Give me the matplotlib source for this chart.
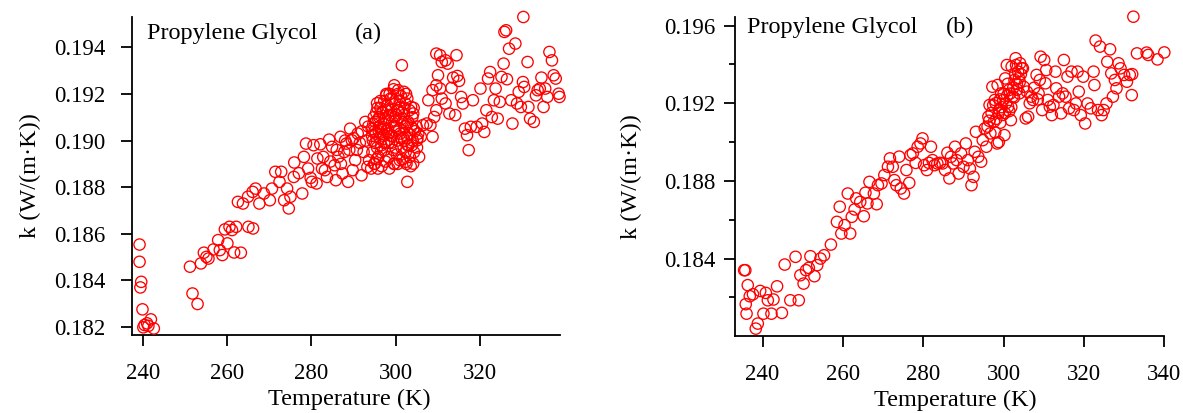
import matplotlib
matplotlib.use("Agg")
import matplotlib.pyplot as plt

plt.rcParams['font.family'] = ['Liberation Serif', 'DejaVu Serif']

# ---------------- data: panel (a) ----------------
temp_a = [
    239.1, 239.1, 239.5, 239.3, 239.8, 240.3, 240.9, 241.8, 241.2, 242.5, 240.0,
    251.1, 251.7, 252.9, 253.7, 254.4, 255.0, 255.5, 256.7, 257.8, 258.2, 258.8,
    259.4, 260.0, 260.5, 261.1, 262.1, 261.6, 263.2, 265.0, 266.1, 262.5, 263.7,
    264.9, 266.0, 266.7, 267.6, 268.7, 270.1, 270.6, 271.4, 272.8, 272.4, 273.5,
    274.6, 275.0, 274.2, 275.8, 275.9, 277.8, 278.2, 278.7, 279.2, 280.1, 280.5,
    281.4, 281.2, 282.1, 282.8, 283.2, 283.7, 284.2, 284.9, 285.5, 285.8, 286.4,
    286.9, 287.4, 287.8, 288.3, 288.7, 289.2, 289.6, 289.8, 290.4, 291.0, 291.9,
    292.4, 292.8, 293.3, 293.7, 294.2, 295.1,
    286.0, 287.0, 288.0, 289.0, 290.0, 290.8, 291.5, 292.0, 293.0, 293.5, 282.5,
    284.5, 279.8, 277.0,
    294.3, 294.6, 294.5, 294.8, 294.9,
    295.2, 295.4, 295.3, 295.6, 295.5, 295.8, 295.7,
    296.1, 296.3, 296.2, 296.5, 296.4, 296.7, 296.6,
    297.0, 297.2, 297.1, 297.4, 297.3, 297.6, 297.5,
    298.0, 298.2, 298.1, 298.4, 298.3, 298.6, 298.5,
    299.0, 299.2, 299.1, 299.4, 299.3, 299.6, 299.5,
    300.0, 300.2, 300.1, 300.4, 300.3, 300.6, 300.5,
    301.0, 301.2, 301.1, 301.4, 301.3, 301.6, 301.5,
    302.0, 302.2, 302.1, 302.4, 302.3, 302.6, 302.5,
    303.0, 303.2, 303.1, 303.4, 303.3, 303.6,
    304.0, 304.2, 304.1, 304.4, 304.3,
    305.0, 305.2, 305.1,
    294.7, 295.0, 295.9, 296.0, 296.8, 296.9, 297.7, 297.9, 298.7, 298.9,
    299.8, 299.9, 300.7, 300.9, 301.7, 301.9, 302.7, 302.9, 303.7, 303.9,
    295.1, 295.9, 296.6, 297.3, 298.2, 299.0, 299.7, 300.5, 301.3, 302.1,
    294.4, 295.6, 296.4, 297.8, 298.8, 300.0, 301.0, 302.8, 304.6, 305.4,
    301.5, 299.7, 297.8, 300.6, 302.0, 302.8, 303.7, 304.2, 302.8, 299.7, 301.0,
    302.4, 304.2, 305.6, 305.1, 306.0, 306.5, 307.4, 308.3, 308.8, 309.2, 309.7,
    307.8, 308.8, 309.7, 310.1, 310.6, 309.7, 310.6, 311.0, 311.9, 312.4, 311.0,
    311.9, 312.8, 313.3, 313.7, 314.2, 314.7, 314.5, 315.1, 315.6, 316.0, 316.5,
    317.0, 317.4, 317.9, 318.4, 319.3, 320.2, 320.6, 321.1, 321.6, 322.0, 322.5,
    322.9, 323.4, 323.8, 324.3, 324.8, 325.2, 325.7, 325.9, 326.3, 326.5, 327.0,
    327.5, 327.8, 328.5, 328.9, 329.3, 329.8, 330.3, 330.4, 330.6, 331.4, 331.6,
    332.0, 332.9, 333.4, 333.8, 334.3, 334.7, 335.2, 335.6, 336.1, 336.6, 337.2,
    337.6, 338.1, 338.8, 339.0,
]
k_a = [
    0.18554, 0.18480, 0.18394, 0.18370, 0.18276, 0.18209, 0.18216, 0.18233, 0.18205, 0.18194, 0.18199,
    0.18459, 0.18344, 0.18299, 0.18473, 0.18519, 0.18501, 0.18494, 0.18533, 0.18573, 0.18530, 0.18509,
    0.18619, 0.18559, 0.18630, 0.18616, 0.18630, 0.18520, 0.18519, 0.18630, 0.18623, 0.18737, 0.18730,
    0.18759, 0.18780, 0.18794, 0.18730, 0.18773, 0.18744, 0.18794, 0.18866, 0.18866, 0.18823, 0.18744,
    0.18709, 0.18759, 0.18794, 0.18844, 0.18906, 0.18773, 0.18930, 0.18987, 0.18880, 0.18823, 0.18980,
    0.18923, 0.18816, 0.18984, 0.18930, 0.18873, 0.18844, 0.19004, 0.18973, 0.18894, 0.18830, 0.18930,
    0.19016, 0.18859, 0.18951, 0.18987, 0.18823, 0.19051, 0.19001, 0.18873, 0.18916, 0.19030, 0.18851,
    0.18951, 0.19080, 0.18887, 0.18916, 0.18880, 0.18901,
    0.18960, 0.18900, 0.19000, 0.18960, 0.19010, 0.18960, 0.18990, 0.19040, 0.19000, 0.19060, 0.18880,
    0.18910, 0.18840, 0.18860,
    0.19050, 0.19000, 0.18950, 0.19100, 0.18900,
    0.19080, 0.19120, 0.19030, 0.18970, 0.18920, 0.18880, 0.19140,
    0.19100, 0.19060, 0.19010, 0.18950, 0.19140, 0.18890, 0.18980,
    0.19120, 0.19070, 0.19020, 0.18960, 0.19170, 0.18910, 0.19090,
    0.19150, 0.19100, 0.19050, 0.18990, 0.18930, 0.19200, 0.18880,
    0.19130, 0.19080, 0.19020, 0.18960, 0.19180, 0.18900, 0.19220,
    0.19160, 0.19110, 0.19060, 0.19000, 0.18940, 0.19200, 0.18900,
    0.19140, 0.19090, 0.19030, 0.18970, 0.19190, 0.18920, 0.19120,
    0.19110, 0.19060, 0.19000, 0.18950, 0.19160, 0.18900, 0.19200,
    0.19080, 0.19030, 0.18980, 0.18930, 0.19130, 0.18890,
    0.19100, 0.19050, 0.19000, 0.18950, 0.19140,
    0.19060, 0.19010, 0.18970,
    0.19070, 0.19040, 0.19090, 0.19040, 0.19120, 0.19030, 0.19130, 0.19040, 0.19110, 0.19020,
    0.19100, 0.19040, 0.19130, 0.19050, 0.19080, 0.19010, 0.19070, 0.18980, 0.19060, 0.18980,
    0.18990, 0.18930, 0.19050, 0.18990, 0.19030, 0.18990, 0.19060, 0.19130, 0.19010, 0.19140,
    0.19020, 0.19160, 0.19170, 0.19200, 0.19180, 0.18970, 0.19170, 0.19010, 0.19040, 0.19030,
    0.19323, 0.19237, 0.19194, 0.19216, 0.19209, 0.19180, 0.19144, 0.19116, 0.18823, 0.18901, 0.18916,
    0.18909, 0.18901, 0.18930, 0.19001, 0.19016, 0.19066, 0.19073, 0.19066, 0.19016, 0.19101, 0.19130,
    0.19173, 0.19216, 0.19237, 0.19280, 0.19223, 0.19373, 0.19366, 0.19337, 0.19344, 0.19330, 0.19180,
    0.19159, 0.19116, 0.19226, 0.19270, 0.19109, 0.19277, 0.19366, 0.19256, 0.19187, 0.19159, 0.19051,
    0.19023, 0.18959, 0.19059, 0.19173, 0.19059, 0.19223, 0.19073, 0.19037, 0.19130, 0.19266, 0.19294,
    0.19101, 0.19173, 0.19223, 0.19094, 0.19166, 0.19273, 0.19330, 0.19466, 0.19473, 0.19263, 0.19394,
    0.19173, 0.19073, 0.19416, 0.19159, 0.19209, 0.19144, 0.19251, 0.19530, 0.19230, 0.19337, 0.19144,
    0.19094, 0.19080, 0.19194, 0.19216, 0.19223, 0.19270, 0.19144, 0.19223, 0.19187, 0.19380, 0.19344,
    0.19280, 0.19266, 0.19201, 0.19187,
]

# ---------------- data: panel (b) ----------------
temp_b = [
    235.4, 235.7, 236.3, 235.8, 236.0, 236.8, 237.6, 238.3, 238.8, 239.4, 240.2,
    240.8, 241.3, 242.2, 242.7, 243.6, 244.8, 245.5, 246.9, 248.2, 249.0, 249.4,
    250.2, 250.8, 251.5, 251.9, 252.9, 253.6, 254.4, 255.3, 257.0, 258.5, 259.2,
    259.6, 260.4, 261.2, 261.8, 262.2, 262.9, 263.3, 264.3, 265.2, 265.6, 266.1,
    266.6, 267.7, 268.4, 268.7, 269.6, 270.3, 271.2, 271.7, 272.4, 272.8, 273.3,
    274.0, 274.4, 275.2, 275.8, 276.5, 276.8, 277.4, 278.1, 278.6, 279.3, 279.8,
    280.2, 280.9, 281.4, 281.9, 282.3, 282.8, 283.5, 284.2, 284.8, 285.4, 286.0,
    286.5, 286.9, 287.4, 287.9, 288.3, 288.8, 289.4, 290.0, 290.6, 291.1, 291.6,
    292.0, 292.5, 292.8, 293.1, 293.7, 294.4, 294.8, 295.3, 295.7, 296.2, 296.5,
    296.7, 297.2, 297.6, 297.8, 298.4, 298.5, 299.0, 299.4, 299.9, 300.2, 300.4,
    300.8, 301.1, 301.3, 301.8, 302.0, 302.2, 302.7, 303.0, 303.1, 303.6, 303.9,
    304.1, 304.5, 305.0, 305.5, 306.1, 306.9, 307.3, 308.2, 308.7, 309.2, 309.6,
    310.1, 310.4, 310.6, 311.0, 311.5, 312.0, 312.4, 312.9, 313.1, 313.8, 314.3,
    314.7, 315.0, 315.4, 315.9, 316.3, 316.9, 317.5, 318.0, 318.4, 318.7, 319.2,
    319.8, 320.3, 320.9, 321.7, 322.4, 322.6, 322.9, 323.5, 324.0, 324.4, 324.9,
    325.6, 325.8, 326.5, 326.8, 327.2, 327.7, 328.1, 328.6, 329.1, 330.0, 330.7,
    331.4, 331.9, 332.0, 332.3, 333.2, 335.6, 336.0, 338.3, 340.0,
    298.0, 298.8, 299.5, 300.0, 300.6, 301.0, 301.6, 302.4, 302.9, 303.3, 303.8,
    304.3, 304.8, 299.2, 300.3, 301.9, 297.0, 296.0, 297.9, 298.8,
    305.8, 306.5, 307.6, 308.5, 309.0,
    296.4, 297.4, 298.2, 299.1, 299.8, 300.9, 301.4, 302.6, 303.4, 304.0,
]
k_b = [
    0.18340, 0.18340, 0.18263, 0.18165, 0.18116, 0.18206, 0.18216, 0.18039, 0.18065, 0.18233, 0.18116,
    0.18223, 0.18185, 0.18116, 0.18189, 0.18257, 0.18120, 0.18369, 0.18185, 0.18409, 0.18185, 0.18314,
    0.18271, 0.18340, 0.18352, 0.18412, 0.18309, 0.18366, 0.18400, 0.18417, 0.18472, 0.18589, 0.18667,
    0.18529, 0.18572, 0.18735, 0.18529, 0.18615, 0.18653, 0.18710, 0.18692, 0.18618, 0.18739, 0.18684,
    0.18795, 0.18735, 0.18680, 0.18778, 0.18787, 0.18830, 0.18873, 0.18916, 0.18873, 0.18804, 0.18778,
    0.18925, 0.18761, 0.18735, 0.18856, 0.18790, 0.18933, 0.18942, 0.18893, 0.18976, 0.18993, 0.19019,
    0.18881, 0.18856, 0.18893, 0.18976, 0.18907, 0.18881, 0.18890, 0.18893, 0.18890, 0.18856, 0.18945,
    0.18813, 0.18924, 0.18890, 0.18976, 0.18907, 0.18838, 0.18942, 0.18873, 0.18993, 0.18907, 0.18864,
    0.18778, 0.18821, 0.18950, 0.19053, 0.18924, 0.18899, 0.19010, 0.19070, 0.18976, 0.19131, 0.19191,
    0.19045, 0.19285, 0.19105, 0.19217, 0.18993, 0.19294, 0.19165, 0.19251, 0.19217, 0.19036, 0.19328,
    0.19397, 0.19182, 0.19268, 0.19113, 0.19389, 0.19234, 0.19320, 0.19432, 0.19397, 0.19363, 0.19251,
    0.19406, 0.19380, 0.19285, 0.19122, 0.19131, 0.19234, 0.19217, 0.19346, 0.19251, 0.19440, 0.19165,
    0.19423, 0.19303, 0.19371, 0.19217, 0.19182, 0.19139, 0.19191, 0.19363, 0.19277, 0.19234, 0.19148,
    0.19251, 0.19423, 0.19234, 0.19337, 0.19174, 0.19363, 0.19165, 0.19199, 0.19363, 0.19260, 0.19139,
    0.19337, 0.19096, 0.19199, 0.19174, 0.19363, 0.19294, 0.19523, 0.19165, 0.19492, 0.19139, 0.19165,
    0.19199, 0.19414, 0.19478, 0.19354, 0.19234, 0.19320, 0.19277, 0.19406, 0.19380, 0.19346, 0.19311,
    0.19346, 0.19242, 0.19350, 0.19646, 0.19457, 0.19461, 0.19449, 0.19426, 0.19462,
    0.19200, 0.19150, 0.19180, 0.19250, 0.19200, 0.19300, 0.19250, 0.19280, 0.19350, 0.19300, 0.19330,
    0.19350, 0.19380, 0.19100, 0.19150, 0.19180, 0.19150, 0.19080, 0.19050, 0.19000,
    0.19260, 0.19200, 0.19280, 0.19220, 0.19320,
    0.19110, 0.19190, 0.19120, 0.19220, 0.19140, 0.19240, 0.19160, 0.19230, 0.19270, 0.19310,
]

xticks_a = [240, 260, 280, 300, 320]
yticks_a = [0.182, 0.184, 0.186, 0.188, 0.190, 0.192, 0.194]
xticks_b = [240, 260, 280, 300, 320, 340]
yticks_b = [0.184, 0.188, 0.192, 0.196]
yminor_b = [0.182, 0.186, 0.190, 0.194]

W, H = 1183, 413
fig = plt.figure(figsize=(W / 100, H / 100), dpi=100)

ax_a = fig.add_axes([131.8 / W, 1 - 335 / H, 428 / W, 318 / H])
ax_b = fig.add_axes([735.3 / W, 1 - 336 / H, 429 / W, 319.3 / H])

red = '#ff0000'
for ax, t, k in ((ax_a, temp_a, k_a), (ax_b, temp_b, k_b)):
    ax.scatter(t, k, s=66, facecolors='none', edgecolors=red, linewidths=0.95,
               zorder=3, clip_on=False)
    for s in ('top', 'right'):
        ax.spines[s].set_visible(False)
    for s in ('left', 'bottom'):
        ax.spines[s].set_linewidth(1.3)
    ax.tick_params(which='major', direction='out', length=8, width=1.3, labelsize=16.5)
    ax.tick_params(which='minor', direction='out', length=4.5, width=1.3)
    ax.tick_params(axis='x', pad=12)
    ax.set_xlabel('Temperature (K)', fontsize=17.5)
    ax.set_ylabel('k (W/(m\u00b7K))', fontsize=17.5)

# panel (a)
ax_a.set_xlim(237.26, 339.07)
ax_a.set_ylim(0.18166, 0.1953)
ax_a.set_xticks(xticks_a)
ax_a.set_yticks(yticks_a)
ax_a.set_yticklabels([f'{v:.3f}' for v in yticks_a])
ax_a.tick_params(axis='y', pad=11)
ax_a.yaxis.set_label_coords(-0.212, 0.5)
ax_a.xaxis.set_label_coords(0.509, -0.170)
ax_a.text(0.0355, 0.930, 'Propylene Glycol', transform=ax_a.transAxes,
          fontsize=17.5, ha='left', va='baseline')
ax_a.text(0.5215, 0.930, '(a)', transform=ax_a.transAxes,
          fontsize=17.5, ha='left', va='baseline')

# panel (b)
ax_b.set_xlim(233.2, 340.0)
ax_b.set_ylim(0.18001, 0.19646)
ax_b.set_xticks(xticks_b)
ax_b.set_yticks(yticks_b)
ax_b.set_yticks(yminor_b, minor=True)
ax_b.set_yticklabels([f'{v:.3f}' for v in yticks_b])
ax_b.tick_params(axis='y', pad=6)
ax_b.yaxis.set_label_coords(-0.218, 0.5)
ax_b.xaxis.set_label_coords(0.512, -0.170)
ax_b.text(0.027, 0.948, 'Propylene Glycol', transform=ax_b.transAxes,
          fontsize=17.5, ha='left', va='baseline')
ax_b.text(0.491, 0.948, '(b)', transform=ax_b.transAxes,
          fontsize=17.5, ha='left', va='baseline')

fig.savefig('out.png', dpi=100)
